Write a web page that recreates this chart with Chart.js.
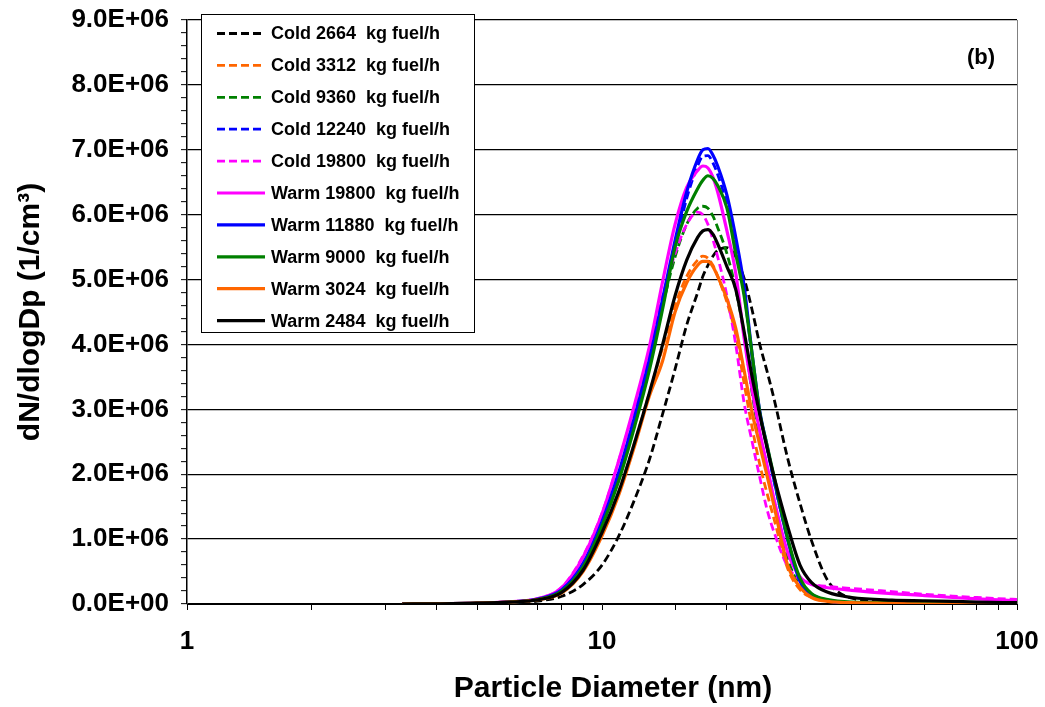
<!DOCTYPE html>
<html>
<head>
<meta charset="utf-8">
<script src="https://cdn.jsdelivr.net/npm/chart.js@4.4.1/dist/chart.umd.min.js"></script>
<style>
    html, body { margin: 0; padding: 0; background: #ffffff; }
    #wrap { width: 1045px; height: 707px; }
</style>
</head>
<body>
<div id="wrap"><canvas id="myChart" width="1045" height="707"></canvas></div>
<script>
// particle diameters (nm) shared by every series
const diameters = [3.3, 4, 5, 6, 7, 8, 9, 10, 11, 12, 13, 14, 15, 16, 17, 17.5, 18, 18.5, 19, 20,
    21, 22, 23, 24, 25, 26, 28, 30, 32, 35, 40, 50, 60, 70, 80, 100];

// dN/dlogDp values in units of 1.0E+06 per cm3
const cold2664 = [0, 0.002, 0.008, 0.02, 0.045, 0.12, 0.3, 0.6, 1.06, 1.62, 2.22, 2.93, 3.62, 4.3, 4.8, 5.05, 5.22, 5.36, 5.45, 5.49,
    5.35, 5.02, 4.53, 4.0, 3.58, 3.15, 2.25, 1.55, 0.97, 0.36, 0.09, 0.03, 0.02, 0.015, 0.01, 0.01];
const cold3312 = [0, 0.003, 0.012, 0.03, 0.07, 0.18, 0.52, 1.08, 1.75, 2.5, 3.25, 3.95, 4.6, 5.05, 5.3, 5.36, 5.33, 5.22, 5.05, 4.65,
    4.15, 3.4, 2.72, 2.15, 1.7, 1.3, 0.55, 0.22, 0.1, 0.04, 0.02, 0.01, 0.005, 0, 0, 0];
const cold9360 = [0, 0.003, 0.012, 0.03, 0.075, 0.22, 0.62, 1.25, 2.0, 2.85, 3.7, 4.6, 5.35, 5.85, 6.1, 6.13, 6.1, 5.98, 5.8, 5.4,
    4.85, 4.15, 3.25, 2.55, 2.05, 1.55, 0.7, 0.28, 0.12, 0.05, 0.02, 0.01, 0.005, 0, 0, 0];
const cold12240 = [0, 0.003, 0.012, 0.03, 0.075, 0.21, 0.6, 1.22, 2.0, 2.85, 3.7, 4.62, 5.5, 6.25, 6.75, 6.9, 6.91, 6.8, 6.62, 6.15,
    5.5, 4.8, 3.8, 2.95, 2.4, 1.88, 1.0, 0.35, 0.15, 0.05, 0.02, 0.01, 0.005, 0, 0, 0];
const cold19800 = [0, 0.004, 0.015, 0.035, 0.085, 0.26, 0.74, 1.4, 2.23, 3.05, 3.9, 4.75, 5.4, 5.85, 6.04, 6.0, 5.85, 5.62, 5.35, 4.75,
    4.0, 3.1, 2.5, 1.95, 1.45, 1.1, 0.58, 0.38, 0.31, 0.27, 0.24, 0.19, 0.15, 0.12, 0.1, 0.07];
const warm19800 = [0, 0.004, 0.015, 0.035, 0.08, 0.25, 0.72, 1.39, 2.23, 3.09, 3.96, 4.97, 5.85, 6.42, 6.68, 6.75, 6.72, 6.58, 6.35, 5.75,
    5.1, 4.1, 3.3, 2.65, 2.13, 1.6, 0.8, 0.42, 0.3, 0.25, 0.21, 0.16, 0.13, 0.1, 0.08, 0.05];
const warm11880 = [0, 0.003, 0.012, 0.03, 0.075, 0.22, 0.62, 1.27, 2.05, 2.9, 3.76, 4.7, 5.6, 6.35, 6.85, 7.0, 7.02, 6.92, 6.75, 6.3,
    5.65, 4.9, 3.85, 2.97, 2.43, 1.9, 1.0, 0.35, 0.15, 0.05, 0.02, 0.01, 0.005, 0, 0, 0];
const warm9000 = [0, 0.003, 0.012, 0.03, 0.07, 0.2, 0.57, 1.2, 1.92, 2.75, 3.6, 4.55, 5.5, 6.05, 6.4, 6.53, 6.6, 6.56, 6.45, 6.1,
    5.4, 4.75, 3.85, 2.95, 2.44, 1.95, 1.02, 0.4, 0.16, 0.07, 0.03, 0.02, 0.01, 0.005, 0, 0];
const warm3024 = [0, 0.003, 0.012, 0.03, 0.065, 0.17, 0.5, 1.05, 1.7, 2.45, 3.2, 3.75, 4.5, 4.95, 5.22, 5.28, 5.28, 5.2, 5.05, 4.7,
    4.25, 3.6, 2.95, 2.45, 1.97, 1.5, 0.6, 0.26, 0.1, 0.04, 0.02, 0.01, 0, 0, 0, 0];
const warm2484 = [0, 0.003, 0.012, 0.03, 0.065, 0.18, 0.52, 1.1, 1.75, 2.5, 3.25, 4.0, 4.75, 5.3, 5.65, 5.75, 5.77, 5.7, 5.55, 5.2,
    4.85, 4.2, 3.5, 2.92, 2.4, 1.95, 1.2, 0.6, 0.33, 0.18, 0.1, 0.06, 0.05, 0.04, 0.03, 0.02];

const seriesNames = ['Cold 2664  kg fuel/h', 'Cold 3312  kg fuel/h', 'Cold 9360  kg fuel/h', 'Cold 12240  kg fuel/h',
    'Cold 19800  kg fuel/h', 'Warm 19800  kg fuel/h', 'Warm 11880  kg fuel/h', 'Warm 9000  kg fuel/h',
    'Warm 3024  kg fuel/h', 'Warm 2484  kg fuel/h'];
const seriesValues = [cold2664, cold3312, cold9360, cold12240, cold19800, warm19800, warm11880, warm9000, warm3024, warm2484];

const xTickLabels = [1, 10, 100];
const yMax = 9e6;
const xTitle = 'Particle Diameter (nm)';
const yTitle = 'dN/dlogDp (1/cm³)';
const panelTag = '(b)';

const seriesColors = ['#000000', '#FF6600', '#008000', '#0000FF', '#FF00FF', '#FF00FF', '#0000FF', '#008000', '#FF6600', '#000000'];
const seriesDashed = [true, true, true, true, true, false, false, false, false, false];

const fontFamily = 'Arial, "Liberation Sans", sans-serif';

function sci(v) {
    if (v === 0) return '0.0E+00';
    return (v / 1e6).toFixed(1) + 'E+06';
}

function isMajor(v) {
    return Math.abs(v / 1e6 - Math.round(v / 1e6)) < 1e-6;
}

const decorations = {
    id: 'decorations',
    afterDraw(chart) {
        const ctx = chart.ctx;
        const a = chart.chartArea;
        ctx.save();

        // right border of the plot area
        ctx.strokeStyle = '#808080';
        ctx.lineWidth = 1;
        ctx.beginPath();
        ctx.moveTo(a.right + 0.5, a.top);
        ctx.lineTo(a.right + 0.5, a.bottom);
        ctx.stroke();

        // legend box
        ctx.fillStyle = '#ffffff';
        ctx.strokeStyle = '#000000';
        ctx.fillRect(201.5, 14.5, 273, 318);
        ctx.strokeRect(201.5, 14.5, 273, 318);
        ctx.font = 'bold 18px ' + fontFamily;
        ctx.textBaseline = 'middle';
        ctx.textAlign = 'left';
        chart.data.datasets.forEach((ds, i) => {
            const y = 33.5 + i * 31.9;
            ctx.strokeStyle = ds.borderColor;
            ctx.lineWidth = ds.borderWidth;
            ctx.setLineDash(ds.borderDash);
            ctx.beginPath();
            ctx.moveTo(217, y);
            ctx.lineTo(265, y);
            ctx.stroke();
            ctx.setLineDash([]);
            ctx.fillStyle = '#000000';
            ctx.fillText(ds.label, 271, y + 1);
        });

        // panel tag
        ctx.font = 'bold 22px ' + fontFamily;
        ctx.textAlign = 'right';
        ctx.fillText(panelTag, 995, 58);

        // axis titles
        ctx.font = 'bold 30px ' + fontFamily;
        ctx.textAlign = 'center';
        ctx.fillText(xTitle, 613, 689);
        ctx.translate(31, 312);
        ctx.rotate(-Math.PI / 2);
        ctx.fillText(yTitle, 0, 0);
        ctx.restore();
    }
};

const ctx = document.getElementById('myChart').getContext('2d');
const myChart = new Chart(ctx, {
    type: 'line',
    data: {
        datasets: seriesNames.map((name, i) => ({
            label: name,
            data: diameters.map((d, j) => ({ x: d, y: seriesValues[i][j] * 1e6 })),
            borderColor: seriesColors[i],
            borderWidth: seriesDashed[i] ? 2.8 : 3.2,
            borderDash: seriesDashed[i] ? [8, 4] : [],
            pointRadius: 0,
            fill: false,
            cubicInterpolationMode: 'monotone',
            order: seriesNames.length - i
        }))
    },
    options: {
        responsive: false,
        animation: false,
        devicePixelRatio: 1,
        layout: { padding: { top: 20, right: 28, left: 0, bottom: 0 } },
        plugins: {
            legend: { display: false },
            tooltip: { enabled: false }
        },
        scales: {
            x: {
                type: 'logarithmic',
                min: 1,
                max: 100,
                afterFit: (scale) => {
                    scale.height = 103;
                    scale.paddingLeft = 0;
                    scale.paddingRight = 0;
                },
                grid: { drawOnChartArea: false, tickLength: 6, tickColor: '#000000' },
                border: { color: '#000000', width: 1 },
                ticks: {
                    autoSkip: false,
                    maxRotation: 0,
                    padding: 16,
                    color: '#000000',
                    font: { family: fontFamily, size: 26, weight: 'bold' },
                    callback: (v) => xTickLabels.includes(v) ? String(v) : ''
                }
            },
            y: {
                min: 0,
                max: yMax,
                afterFit: (scale) => {
                    scale.width = 187;
                    scale.paddingTop = 0;
                    scale.paddingBottom = 0;
                },
                grid: {
                    color: (c) => (c.tick && isMajor(c.tick.value)) ? '#000000' : 'rgba(0,0,0,0)',
                    lineWidth: 1.3,
                    tickLength: 6,
                    tickColor: '#000000',
                    tickWidth: 1
                },
                border: { color: '#000000', width: 1.5 },
                ticks: {
                    stepSize: 2e5,
                    autoSkip: false,
                    padding: 12,
                    color: '#000000',
                    font: { family: fontFamily, size: 26, weight: 'bold' },
                    callback: (v) => isMajor(v) ? sci(Math.round(v / 1e6) * 1e6) : ''
                }
            }
        }
    },
    plugins: [decorations]
});
</script>
</body>
</html>
